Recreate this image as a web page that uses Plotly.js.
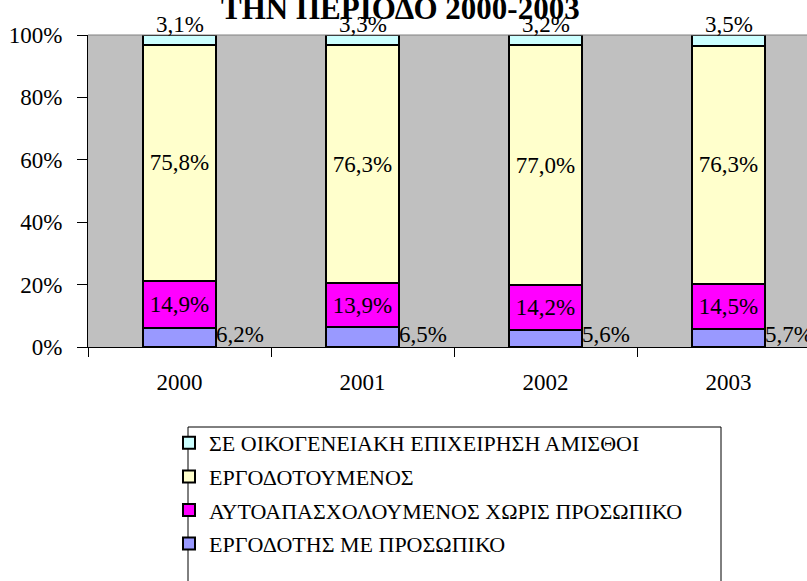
<!DOCTYPE html>
<html><head><meta charset="utf-8">
<script src="https://cdn.plot.ly/plotly-3.0.1.min.js"></script>
<style>html,body{margin:0;padding:0;overflow:hidden;background:#fff}</style>
</head><body><div id="chart" style="width:807px;height:581px"></div>
<script>
const years = ['2000', '2001', '2002', '2003'];
const employerStaff = [6.2, 6.5, 5.6, 5.7];      // ΕΡΓΟΔΟΤΗΣ ΜΕ ΠΡΟΣΩΠΙΚΟ
const selfEmployed = [14.9, 13.9, 14.2, 14.5];   // ΑΥΤΟΑΠΑΣΧΟΛΟΥΜΕΝΟΣ ΧΩΡΙΣ ΠΡΟΣΩΠΙΚΟ
const employees = [75.8, 76.3, 77.0, 76.3];      // ΕΡΓΟΔΟΤΟΥΜΕΝΟΣ
const familyUnpaid = [3.1, 3.3, 3.2, 3.5];       // ΣΕ ΟΙΚΟΓΕΝΕΙΑΚΗ ΕΠΙΧΕΙΡΗΣΗ ΑΜΙΣΘΟΙ
const seriesNames = ['ΕΡΓΟΔΟΤΗΣ ΜΕ ΠΡΟΣΩΠΙΚΟ', 'ΑΥΤΟΑΠΑΣΧΟΛΟΥΜΕΝΟΣ ΧΩΡΙΣ ΠΡΟΣΩΠΙΚΟ', 'ΕΡΓΟΔΟΤΟΥΜΕΝΟΣ', 'ΣΕ ΟΙΚΟΓΕΝΕΙΑΚΗ ΕΠΙΧΕΙΡΗΣΗ ΑΜΙΣΘΟΙ'];
const seriesColors = ['#9999FF', '#FF00FF', '#FFFFCC', '#CCFFFF'];
const yTickVals = [0, 20, 40, 60, 80, 100];
const yTickText = ['0%', '20%', '40%', '60%', '80%', '100%'];
const titleText = 'ΤΗΝ ΠΕΡΙΟΔΟ 2000-2003';

const FONT = 'Liberation Serif, Times New Roman, serif';
const fmt = v => v.toFixed(1).replace('.', ',') + '%';
const seriesValues = [employerStaff, selfEmployed, employees, familyUnpaid];

const traces = seriesValues.map((vals, k) => ({
  type: 'bar',
  x: years,
  y: vals,
  name: seriesNames[k],
  legendgroup: 'g' + k,
  legendrank: 10 - k,
  marker: {color: seriesColors[k], line: {color: '#000', width: 2}},
  text: (k === 1 || k === 2) ? vals.map(fmt) : undefined,
  textposition: (k === 1 || k === 2) ? 'inside' : 'none',
  insidetextanchor: 'middle',
  textangle: 0,
  insidetextfont: {family: FONT, size: 23, color: '#000'},
  hoverinfo: 'skip'
}));

const annotations = [];
years.forEach((yr, i) => {
  annotations.push({
    x: i, y: 100, xref: 'x', yref: 'y', text: fmt(familyUnpaid[i]), showarrow: false,
    yanchor: 'bottom', xanchor: 'center', yshift: -4,
    font: {family: FONT, size: 23, color: '#000'}
  });
  annotations.push({
    x: i + 0.2, y: 0, xref: 'x', yref: 'y', text: fmt(employerStaff[i]), showarrow: false,
    yanchor: 'bottom', xanchor: 'left', xshift: -2, yshift: -2,
    font: {family: FONT, size: 23, color: '#000'}
  });
});
annotations.push({
  x: (400 - 88) / 719, xref: 'paper', y: 1, yref: 'paper', yanchor: 'bottom', yshift: 7,
  text: '<b>' + titleText + '</b>', showarrow: false,
  font: {family: FONT, size: 31, color: '#000'}
});

const layout = {
  width: 807, height: 581,
  margin: {l: 88, r: 0, t: 35, b: 234, pad: 0, autoexpand: false},
  paper_bgcolor: '#fff',
  plot_bgcolor: '#C0C0C0',
  barmode: 'stack',
  bargap: 0.6,
  showlegend: true,
  legend: {
    xref: 'container', yref: 'container',
    x: 169 / 807, y: 1 - 422 / 581, xanchor: 'left', yanchor: 'top',
    traceorder: 'grouped', tracegroupgap: 2,
    bgcolor: 'rgba(0,0,0,0)', borderwidth: 0,
    font: {family: FONT, size: 22, color: '#000'}
  },
  xaxis: {
    type: 'category', range: [-0.5, -0.5 + 719 / 183], automargin: false,
    tickson: 'boundaries', ticks: 'outside', ticklen: 9, tickcolor: '#000', tickwidth: 1,
    tickangle: 0,
    showline: true, linecolor: '#000', linewidth: 1,
    showgrid: false, zeroline: false,
    ticklabelstandoff: 14,
    tickfont: {family: FONT, size: 23, color: '#000'}
  },
  yaxis: {
    range: [0, 100], tickvals: yTickVals, ticktext: yTickText, automargin: false,
    ticks: 'outside', ticklen: 10, tickcolor: '#000', tickwidth: 1,
    showline: true, linecolor: '#000', linewidth: 1,
    showgrid: false, zeroline: false,
    ticklabelstandoff: 10,
    tickfont: {family: FONT, size: 23, color: '#000'}
  },
  shapes: [
    {type: 'line', xref: 'paper', yref: 'paper', x0: 0, x1: 1, y0: 1, y1: 1, line: {color: '#808080', width: 1}},
    {type: 'rect', xref: 'paper', yref: 'paper',
     x0: (188 - 88) / 719, x1: (721 - 88) / 719, y0: (347 - 640) / 312, y1: (347 - 427) / 312,
     line: {color: '#000', width: 1}, fillcolor: 'rgba(0,0,0,0)', layer: 'below'}
  ],
  annotations: annotations
};

Plotly.newPlot('chart', traces, layout, {displayModeBar: false, staticPlot: true});
</script>
</body></html>
